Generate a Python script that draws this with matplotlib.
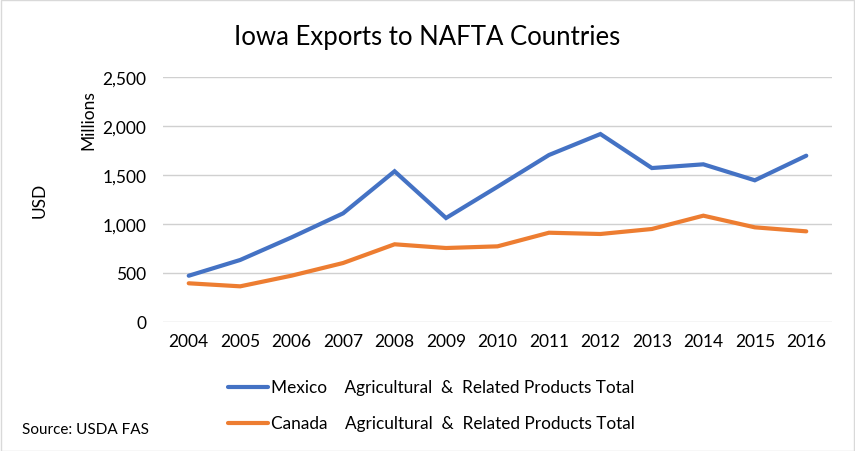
import matplotlib
matplotlib.use("Agg")
import matplotlib.pyplot as plt
from matplotlib.lines import Line2D
from matplotlib.patches import Rectangle

years = [2004, 2005, 2006, 2007, 2008, 2009, 2010, 2011, 2012, 2013, 2014, 2015, 2016]
mexico = [472, 633, 864, 1109, 1538, 1061, 1380, 1704, 1918, 1571, 1609, 1446, 1697]
canada = [395, 364, 473, 602, 793, 755, 772, 911, 898, 949, 1085, 966, 925]
yticks = [0, 500, 1000, 1500, 2000, 2500]
ytick_labels = ["0", "500", "1,000", "1,500", "2,000", "2,500"]
series_names = ["Mexico    Agricultural  &  Related Products Total",
                "Canada    Agricultural  &  Related Products Total"]

plt.rcParams['font.family'] = ['Lato', 'DejaVu Sans']
W, H = 855, 452
fig = plt.figure(figsize=(W / 100, H / 100), dpi=100)

blue = "#4472C4"
orange = "#ED7D31"

ax = fig.add_axes([163 / W, 1 - 323 / H, (832 - 163) / W, (323 - 78) / H])
ax.plot(years, mexico, color=blue, lw=3.0, solid_capstyle='round', solid_joinstyle='miter')
ax.plot(years, canada, color=orange, lw=3.0, solid_capstyle='round', solid_joinstyle='miter')
ax.set_xlim(2003.5, 2016.5)
ax.set_ylim(0, 2500)
ax.set_yticks(yticks)
ax.set_yticklabels(ytick_labels)
ax.set_xticks(years)
ax.set_xticklabels([str(y) for y in years])
ax.grid(axis='y', color='#D0D0D0', lw=1)
ax.set_axisbelow(True)
for s in ax.spines.values():
    s.set_visible(False)
ax.tick_params(length=0, labelsize=12.5, colors='#000000', pad=8)
ax.tick_params(axis='y', pad=12)

fig.text(427 / W, 1 - 38 / H, "Iowa Exports to NAFTA Countries", ha='center', va='center', fontsize=18.5)
fig.text(88 / W, 1 - 120 / H, "Millions", rotation=90, ha='center', va='center', fontsize=12.5)
fig.text(40 / W, 1 - 200 / H, "USD", rotation=90, ha='center', va='center', fontsize=12.5)

# legend
for i, (name, c) in enumerate(zip(series_names, [blue, orange])):
    yy = 1 - (388 + i * 36) / H
    fig.add_artist(Line2D([228 / W, 268 / W], [yy, yy], color=c, lw=3.0, solid_capstyle='round'))
    fig.text(271 / W, yy, name, ha='left', va='center', fontsize=12.4)

fig.text(22 / W, 1 - 430 / H, "Source: USDA FAS", ha='left', va='center', fontsize=11)

fig.add_artist(Rectangle((0.5 / W, 0.5 / H), 1 - 1.5 / W, 1 - 1.5 / H, fill=False,
                         edgecolor='#D9D9D9', lw=1, transform=fig.transFigure))

fig.savefig("out.png", dpi=100)
